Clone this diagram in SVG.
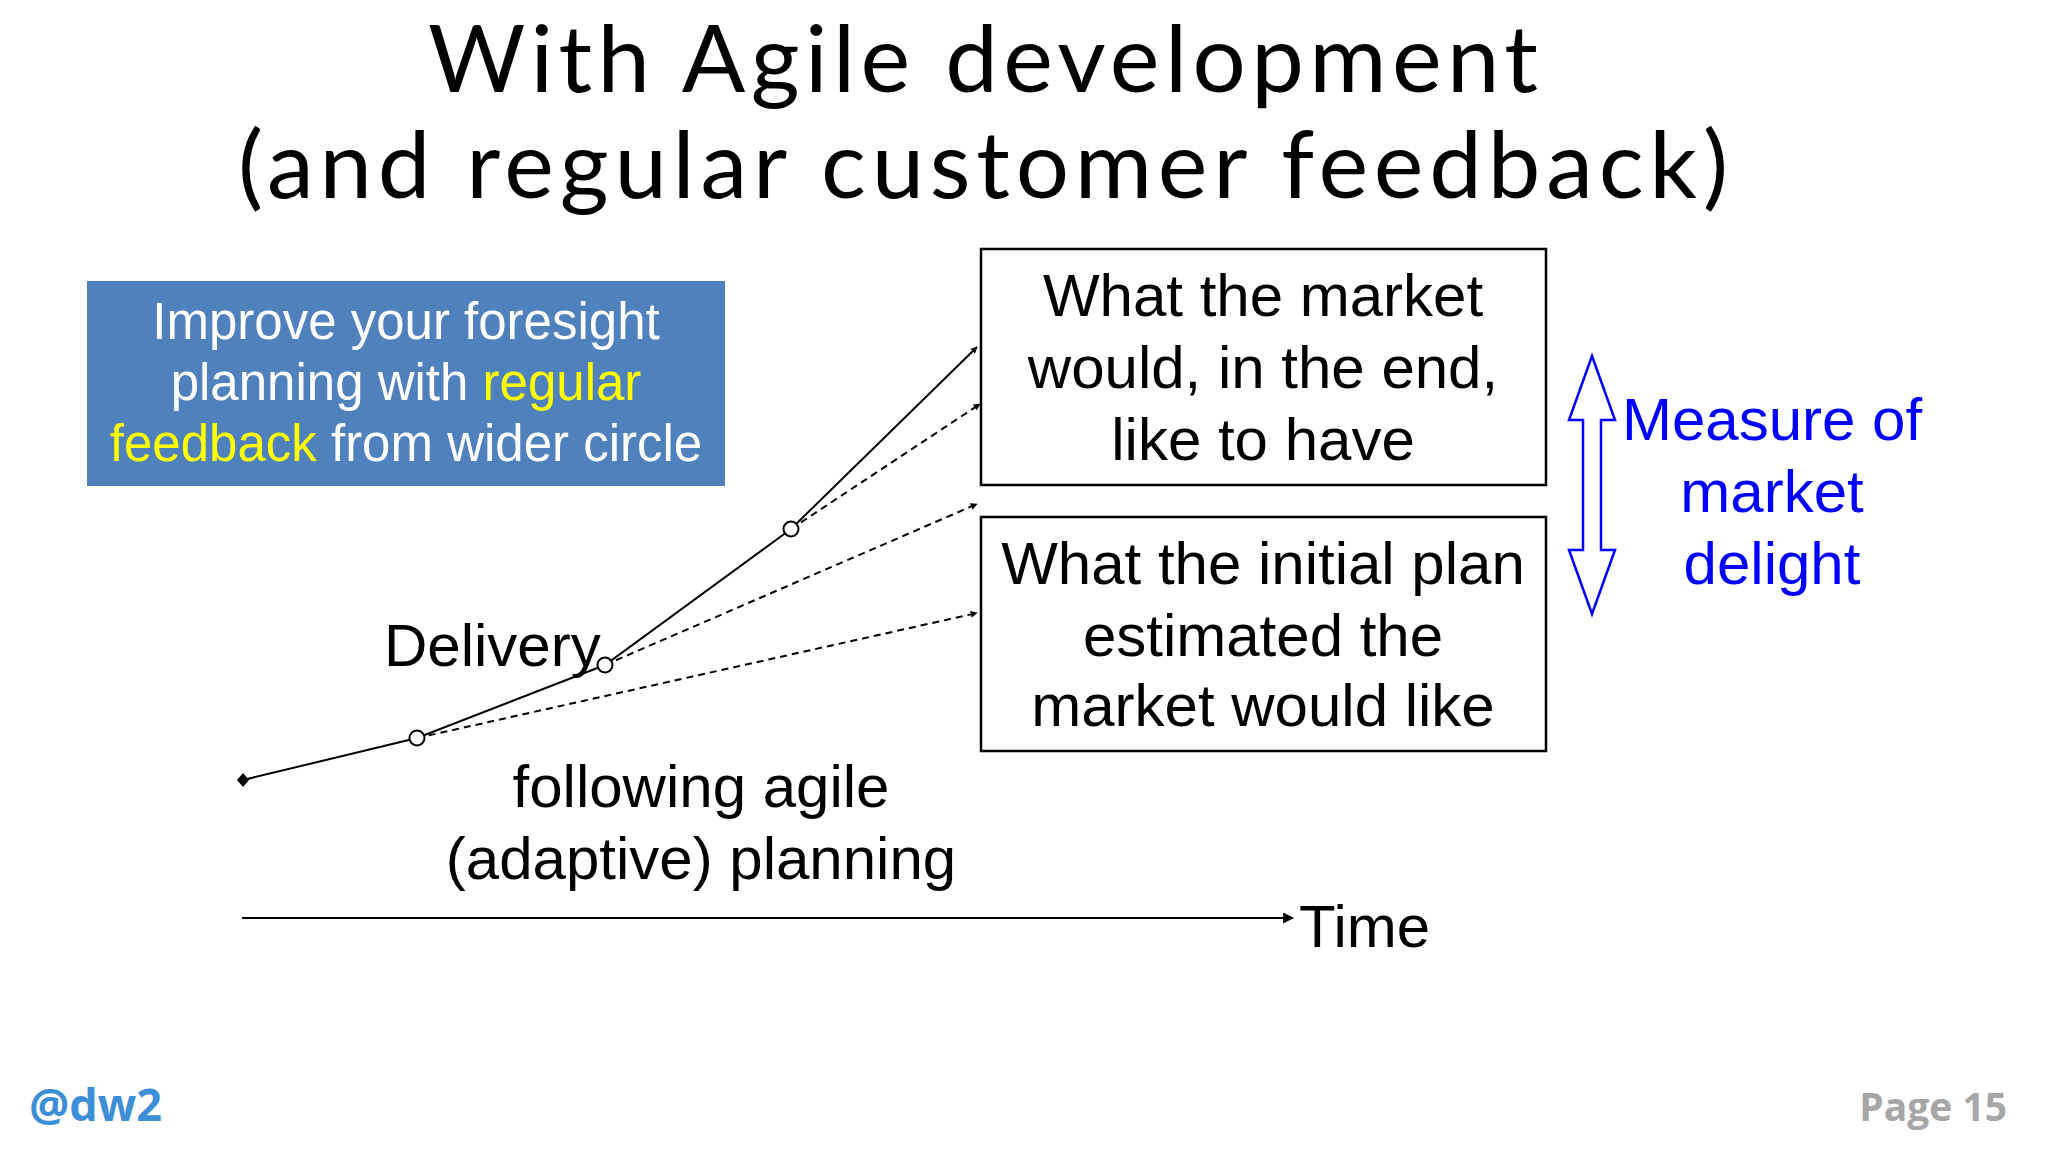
<svg xmlns="http://www.w3.org/2000/svg" width="2048" height="1152" viewBox="0 0 2048 1152">
<defs>
<style>
.t{font-family:"Liberation Sans",Arial,sans-serif;text-anchor:middle}
.ln{stroke:#000;stroke-width:2;fill:none}
.ds{stroke:#000;stroke-width:2;fill:none;stroke-dasharray:7 5}
.pt{fill:#fff;stroke:#000;stroke-width:2}
.box{fill:#fff;stroke:#000;stroke-width:2.5}
</style>
<marker id="ah" viewBox="0 0 10 10" refX="9" refY="5" markerWidth="7" markerHeight="7" orient="auto" markerUnits="userSpaceOnUse"><path d="M0,0L10,5L0,10z" fill="#000"/></marker>
<marker id="ah2" viewBox="0 0 10 10" refX="9" refY="5" markerWidth="11" markerHeight="11" orient="auto" markerUnits="userSpaceOnUse"><path d="M0,0L10,5L0,10z" fill="#000"/></marker>
</defs>
<rect width="2048" height="1152" fill="#fff"/>
<g id="title" font-family="Lato,'Noto Sans',sans-serif" font-size="94" text-anchor="middle">
<text x="983" y="92" textLength="1110" lengthAdjust="spacing">With Agile development</text>
<text x="983" y="198" textLength="1490" lengthAdjust="spacing">(and regular customer feedback)</text>
</g>
<g id="note">
<rect x="87" y="281" width="638" height="205" fill="#4f81bd"/>
<text class="t" font-size="51" fill="#fff"><tspan x="406" y="339">Improve your foresight</tspan><tspan x="406" y="400">planning with <tspan fill="#ffff00">regular</tspan></tspan><tspan x="406" y="461"><tspan fill="#ffff00">feedback</tspan> from wider circle</tspan></text>
</g>
<g id="market">
<rect class="box" x="981" y="249" width="565" height="236"/>
<text class="t" font-size="60"><tspan x="1263" y="316">What the market</tspan><tspan x="1263" y="388">would, in the end,</tspan><tspan x="1263" y="460">like to have</tspan></text>
</g>
<g id="plan">
<rect class="box" x="981" y="517" width="565" height="234"/>
<text class="t" font-size="60"><tspan x="1263" y="584">What the initial plan</tspan><tspan x="1263" y="656">estimated the</tspan><tspan x="1263" y="726">market would like</tspan></text>
</g>
<g id="measure">
<path d="M1592,356 L1615,420 L1601,420 L1601,550 L1615,550 L1592,614 L1569,550 L1583,550 L1583,420 L1569,420 Z" fill="#fff" stroke="#0000ff" stroke-width="2.5"/>
<text class="t" font-size="60" fill="#0000ff"><tspan x="1772" y="440">Measure of</tspan><tspan x="1772" y="512">market</tspan><tspan x="1772" y="584">delight</tspan></text>
</g>
<g id="labels" font-family="'Liberation Sans',Arial,sans-serif" font-size="60">
<text x="384" y="666">Delivery</text>
<text class="t"><tspan x="701" y="807">following agile</tspan><tspan x="701" y="879">(adaptive) planning</tspan></text>
<text x="1299" y="947">Time</text>
</g>
<g id="connectors">
<line class="ln" x1="242" y1="918" x2="1293" y2="918" marker-end="url(#ah2)"/>
<polyline class="ln" points="243,780 417,738 605,665 791,529 977,347" marker-end="url(#ah)"/>
<line class="ds" x1="791" y1="529" x2="980" y2="404" marker-end="url(#ah)"/>
<line class="ds" x1="605" y1="665" x2="977" y2="504" marker-end="url(#ah)"/>
<line class="ds" x1="417" y1="738" x2="977" y2="613" marker-end="url(#ah)"/>
<path d="M243,773 L249,780 L243,787 L237,780 Z" fill="#000"/>
<circle class="pt" cx="417" cy="738" r="7.5"/>
<circle class="pt" cx="605" cy="665" r="7.5"/>
<circle class="pt" cx="791" cy="529" r="7.5"/>
</g>
<g id="footer" font-family="'Open Sans','Noto Sans',sans-serif" font-weight="bold">
<text x="29" y="1121" font-size="45" fill="#3c8fd6">@dw2</text>
<text x="2007" y="1121" font-size="39" fill="#a6a6a6" text-anchor="end">Page 15</text>
</g>
</svg>
